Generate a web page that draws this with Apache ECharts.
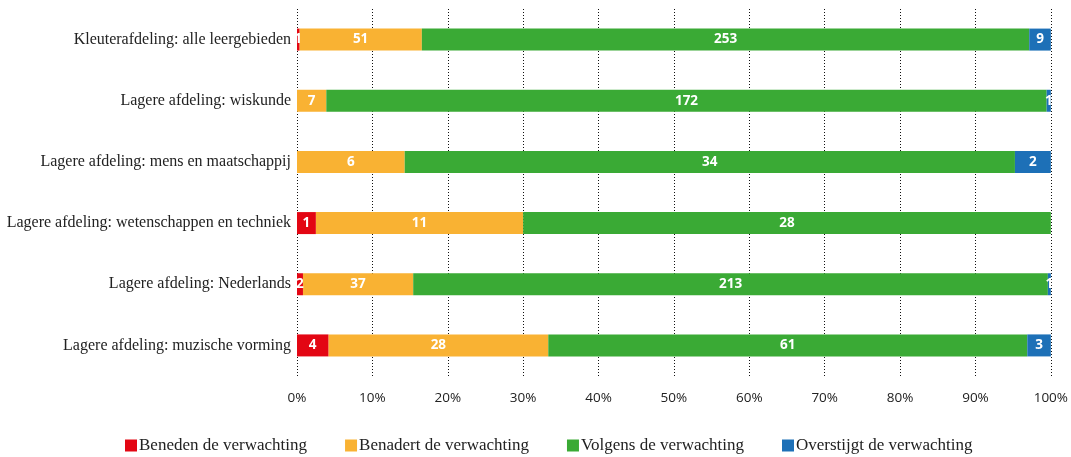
<!DOCTYPE html>
<html>
<head>
<meta charset="utf-8">
<script src="https://cdn.jsdelivr.net/npm/echarts@6/dist/echarts.min.js"></script>
<style>
html,body{margin:0;padding:0;background:#fff;}
#chart{width:1071px;height:457px;}
</style>
</head>
<body>
<div id="chart"></div>
<script>
const categories = [
  "Kleuterafdeling: alle leergebieden",
  "Lagere afdeling: wiskunde",
  "Lagere afdeling: mens en maatschappij",
  "Lagere afdeling: wetenschappen en techniek",
  "Lagere afdeling: Nederlands",
  "Lagere afdeling: muzische vorming"
];
const seriesNames = ["Beneden de verwachting","Benadert de verwachting","Volgens de verwachting","Overstijgt de verwachting"];
const beneden = [1, 0, 0, 1, 2, 4];
const benadert = [51, 7, 6, 11, 37, 28];
const volgens = [253, 172, 34, 28, 213, 61];
const overstijgt = [9, 1, 2, 0, 1, 3];
const colors = ["#e30613", "#f9b233", "#3aaa35", "#1d70b7"];

const counts = [beneden, benadert, volgens, overstijgt];
const totals = categories.map((c, i) => counts.reduce((s, arr) => s + arr[i], 0));

const chart = echarts.init(document.getElementById('chart'));
chart.setOption({
  animation: false,
  grid: { left: 297, right: 18, top: 9, bottom: 81, containLabel: false },
  legend: {
    top: 432,
    left: 120,
    itemWidth: 12,
    itemHeight: 12,
    itemGap: 38,
    icon: 'rect',
    textStyle: { fontFamily: 'Liberation Serif', fontSize: 17, color: '#222', padding: [0,0,0,-3] },
    data: seriesNames
  },
  xAxis: {
    type: 'value',
    min: 0, max: 100, interval: 10,
    axisLine: { show: false },
    axisTick: { show: false },
    axisLabel: { formatter: '{value}%', fontFamily: 'Open Sans', fontSize: 13.5, color: '#222', margin: 15 },
    splitLine: { show: true, lineStyle: { color: '#111', type: [1, 2], width: 1 } }
  },
  yAxis: {
    type: 'category',
    inverse: true,
    data: categories,
    axisLine: { show: false },
    axisTick: { show: false },
    axisLabel: { fontFamily: 'Liberation Serif', fontSize: 16, color: '#222', margin: 6 }
  },
  series: counts.map((arr, si) => ({
    name: seriesNames[si],
    type: 'bar',
    stack: 'total',
    barWidth: 22,
    z: si === 0 ? 3 : 2,
    itemStyle: { color: colors[si] },
    label: {
      show: true,
      position: 'inside',
      color: '#fff',
      fontFamily: 'Open Sans',
      fontWeight: 'bold',
      fontSize: 13.5,
      formatter: p => arr[p.dataIndex] > 0 ? String(arr[p.dataIndex]) : ''
    },
    data: arr.map((v, i) => v / totals[i] * 100)
  }))
});
</script>
</body>
</html>
